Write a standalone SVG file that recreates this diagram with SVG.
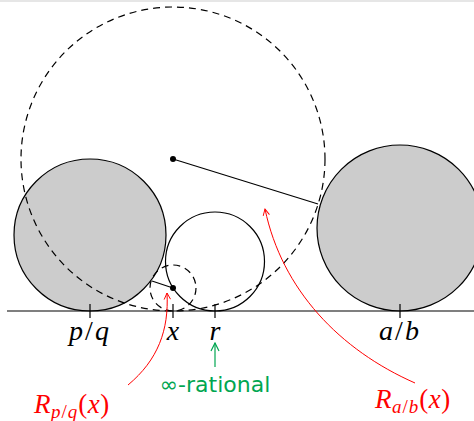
<svg xmlns="http://www.w3.org/2000/svg" width="474" height="421" viewBox="0 0 474 421">
<style>
.gray{fill:#cccccc;stroke:#000;stroke-width:1.2}
.plain{fill:none;stroke:#000;stroke-width:1.2}
.dash{fill:none;stroke:#000;stroke-width:1.2;stroke-dasharray:7 5}
.math{font-family:"Liberation Serif","DejaVu Serif",serif;font-style:italic;font-size:28px;fill:#000}
.up{font-style:normal}
.red{fill:#ff0000}
.rl{fill:none;stroke:#ff0000;stroke-width:1}
.gl{fill:none;stroke:#00a651;stroke-width:1.2}
.sans{font-family:"DejaVu Sans","Noto Sans",sans-serif;font-size:22px;fill:#00a651}
</style>
<defs>
<marker id="ar" viewBox="0 0 10 10" refX="9" refY="5" markerWidth="8" markerHeight="8" orient="auto" markerUnits="userSpaceOnUse">
<path d="M1,1 L9,5 L1,9" fill="none" stroke="#ff0000" stroke-width="1.2"/>
</marker>
<marker id="ag" viewBox="0 0 10 10" refX="9" refY="5" markerWidth="10" markerHeight="10" orient="auto" markerUnits="userSpaceOnUse">
<path d="M1,1 L9,5 L1,9" fill="none" stroke="#00a651" stroke-width="1.2"/>
</marker>
</defs>
<rect x="0" y="0" width="474" height="2" fill="#e6e6e6"/>
<g id="circle-pq"><circle class="gray" cx="90" cy="235" r="76"/></g>
<g id="circle-ab"><circle class="gray" cx="400" cy="228" r="83"/></g>
<g id="circle-r"><circle class="plain" cx="215" cy="261.5" r="49.5"/></g>
<g id="big-dashed"><circle class="dash" cx="173" cy="159" r="152"/><circle cx="173" cy="159" r="3" fill="#000"/></g>
<g id="small-dashed"><circle class="dash" cx="173" cy="288" r="23"/><circle cx="173" cy="288" r="3" fill="#000"/></g>
<g id="connectors">
<line class="plain" x1="7" y1="311" x2="474" y2="311"/>
<line class="plain" x1="173" y1="159" x2="318" y2="204"/>
<line class="plain" x1="173" y1="288" x2="152" y2="281"/>
<line class="plain" x1="90" y1="304" x2="90" y2="318"/>
<line class="plain" x1="173" y1="304" x2="173" y2="318"/>
<line class="plain" x1="215" y1="304" x2="215" y2="318"/>
<line class="plain" x1="400" y1="304" x2="400" y2="318"/>
<path class="rl" d="M128,385 C158,360 169,330 167,293" marker-end="url(#ar)"/>
<path class="rl" d="M415,383 C340,350 282,290 265,209" marker-end="url(#ar)"/>
<line class="gl" x1="215" y1="367" x2="215" y2="343" marker-end="url(#ag)"/>
</g>
<g id="labels">
<text class="math" x="90" y="340" text-anchor="middle" letter-spacing="2">p<tspan class="up">/</tspan>q</text>
<text class="math" x="173" y="340" text-anchor="middle">x</text>
<text class="math" x="215" y="340" text-anchor="middle">r</text>
<text class="math" x="400" y="340" text-anchor="middle" letter-spacing="2">a<tspan class="up">/</tspan>b</text>
<text class="sans" x="215" y="392" text-anchor="middle">∞-rational</text>
<text class="math red" x="34" y="413" style="font-size:27px" letter-spacing="0.5">R<tspan dy="5" style="font-size:19px" letter-spacing="1">p<tspan class="up">/</tspan>q</tspan><tspan dy="-5" class="up">(</tspan>x<tspan class="up">)</tspan></text>
<text class="math red" x="375" y="408" style="font-size:27px" letter-spacing="0.5">R<tspan dy="5" style="font-size:19px" letter-spacing="1">a<tspan class="up">/</tspan>b</tspan><tspan dy="-5" class="up">(</tspan>x<tspan class="up">)</tspan></text>
</g>
</svg>
